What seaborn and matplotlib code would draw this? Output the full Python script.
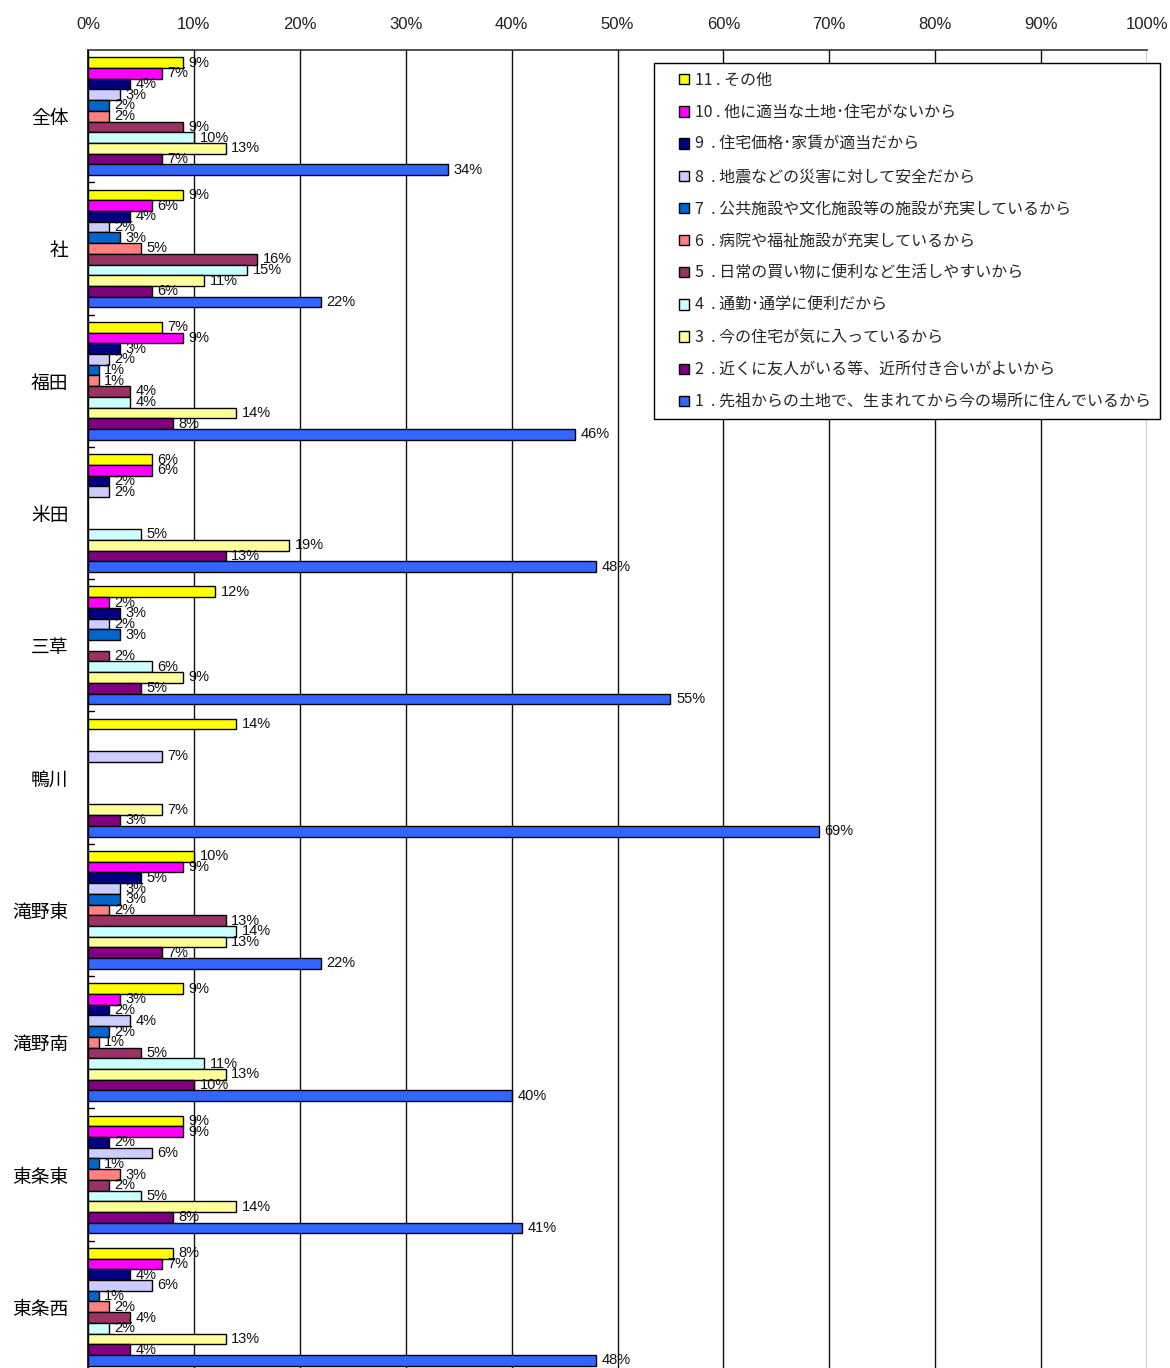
import numpy as np
import pandas as pd
import matplotlib
matplotlib.use("Agg")
import matplotlib.pyplot as plt
from matplotlib.patches import Rectangle
from matplotlib.legend_handler import HandlerPatch
import seaborn as sns

# Areas (top to bottom)
areas = ["全体", "社", "福田", "米田", "三草", "鴨川", "滝野東", "滝野南", "東条東", "東条西"]

# Reasons, listed 11 → 1 (drawing / legend order)
reasons = [
    "11 . その他",
    "10 . 他に適当な土地･住宅がないから",
    "9  . 住宅価格･家賃が適当だから",
    "8  . 地震などの災害に対して安全だから",
    "7  . 公共施設や文化施設等の施設が充実しているから",
    "6  . 病院や福祉施設が充実しているから",
    "5  . 日常の買い物に便利など生活しやすいから",
    "4  . 通勤･通学に便利だから",
    "3  . 今の住宅が気に入っているから",
    "2  . 近くに友人がいる等、近所付き合いがよいから",
    "1  . 先祖からの土地で、生まれてから今の場所に住んでいるから",
]

colors = ["#FFFF00", "#FF00FF", "#000080", "#CCCCFF", "#0066CC", "#FF8080",
          "#993366", "#CCFFFF", "#FFFF99", "#800080", "#3366FF"]

# Percentages per area, in the same order as `reasons` (None = no answer)
v_zentai   = [9, 7, 4, 3, 2, 2, 9, 10, 13, 7, 34]
v_yashiro  = [9, 6, 4, 2, 3, 5, 16, 15, 11, 6, 22]
v_fukuda   = [7, 9, 3, 2, 1, 1, 4, 4, 14, 8, 46]
v_yoneda   = [6, 6, 2, 2, None, None, None, 5, 19, 13, 48]
v_mikusa   = [12, 2, 3, 2, 3, None, 2, 6, 9, 5, 55]
v_kamogawa = [14, None, None, 7, None, None, None, None, 7, 3, 69]
v_takinoE  = [10, 9, 5, 3, 3, 2, 13, 14, 13, 7, 22]
v_takinoS  = [9, 3, 2, 4, 2, 1, 5, 11, 13, 10, 40]
v_tojoE    = [9, 9, 2, 6, 1, 3, 2, 5, 14, 8, 41]
v_tojoW    = [8, 7, 4, 6, 1, 2, 4, 2, 13, 4, 48]

values = [v_zentai, v_yashiro, v_fukuda, v_yoneda, v_mikusa,
          v_kamogawa, v_takinoE, v_takinoS, v_tojoE, v_tojoW]

rows = []
for area, vals in zip(areas, values):
    for reason, v in zip(reasons, vals):
        if v is not None:
            rows.append({"area": area, "reason": reason, "pct": v})
df = pd.DataFrame(rows)

sns.set_theme(style="white")
plt.rcParams["font.family"] = ["Noto Sans CJK JP", "DejaVu Sans"]

W, H = 1170, 1368
fig = plt.figure(figsize=(W / 100, H / 100), dpi=100)
ax = fig.add_axes([88 / W, -5 / H, 1059 / W, 1323 / H])

sns.barplot(data=df, x="pct", y="area", hue="reason", order=areas,
            hue_order=reasons, palette=colors, orient="h", width=0.89,
            edgecolor="black", linewidth=1.0, saturation=1, ax=ax,
            legend=True)

ax.set_xlim(0, 100)
ax.set_ylim(len(areas) - 0.5, -0.5)
ax.set_xticks(np.arange(0, 101, 10))
ax.set_xticklabels([f"{t}%" for t in range(0, 101, 10)],
                   family=["Liberation Sans", "DejaVu Sans"], fontsize=12,
                   color="#222222")
ax.xaxis.tick_top()
ax.tick_params(axis="x", length=0, pad=13)
ax.grid(axis="x", color="#111111", linewidth=1.0)
ax.grid(axis="y", visible=False)
ax.set_axisbelow(True)
ax.set_xlabel("")
ax.set_ylabel("")

# Category labels and inward ticks at group boundaries
ax.set_yticks(range(len(areas)))
ax.set_yticklabels(areas, fontsize=13.5, color="black")
ax.tick_params(axis="y", length=0, pad=14)
for b in np.arange(0.5, len(areas) - 0.5, 1.0):
    ax.plot([0, 0.6], [b, b], color="black", lw=1, clip_on=False)

for side in ["right", "bottom"]:
    ax.spines[side].set_visible(False)
ax.spines["left"].set_color("black")
ax.spines["left"].set_linewidth(1.2)
ax.spines["top"].set_color("#333333")
ax.spines["top"].set_linewidth(1.2)

# Value labels
for cont in ax.containers:
    ax.bar_label(cont, fmt="%d%%", padding=4, fontsize=10.5,
                 family=["Liberation Sans", "DejaVu Sans"], color="#111111")


# Small square legend keys, set toward the right of a wider handle box
def square_key(legend, orig_handle, xdescent, ydescent, width, height, fontsize):
    s = 7.5
    return Rectangle((-xdescent + width - s, -ydescent + (height - s) / 2), s, s)


handles, labels = ax.get_legend_handles_labels()
ax.legend_.remove()
leg = fig.legend(handles, labels, loc="upper left",
                 bbox_to_anchor=(654 / W, 1 - 63 / H),
                 bbox_transform=fig.transFigure,
                 frameon=True, fancybox=False, shadow=False,
                 handlelength=1.65, handleheight=0.7, handletextpad=0.35,
                 labelspacing=0.95, borderpad=0.55, borderaxespad=0,
                 handler_map={h: HandlerPatch(patch_func=square_key) for h in handles},
                 prop={"family": ["Noto Sans CJK JP", "DejaVu Sans"], "size": 11.5})
leg.get_frame().set_edgecolor("black")
leg.get_frame().set_linewidth(1.0)
leg.get_frame().set_facecolor("white")
leg.get_frame().set_alpha(1)
for h in leg.legend_handles:
    h.set_edgecolor("black")
    h.set_linewidth(1.0)

fig.savefig("out.png", dpi=100, facecolor="white")
